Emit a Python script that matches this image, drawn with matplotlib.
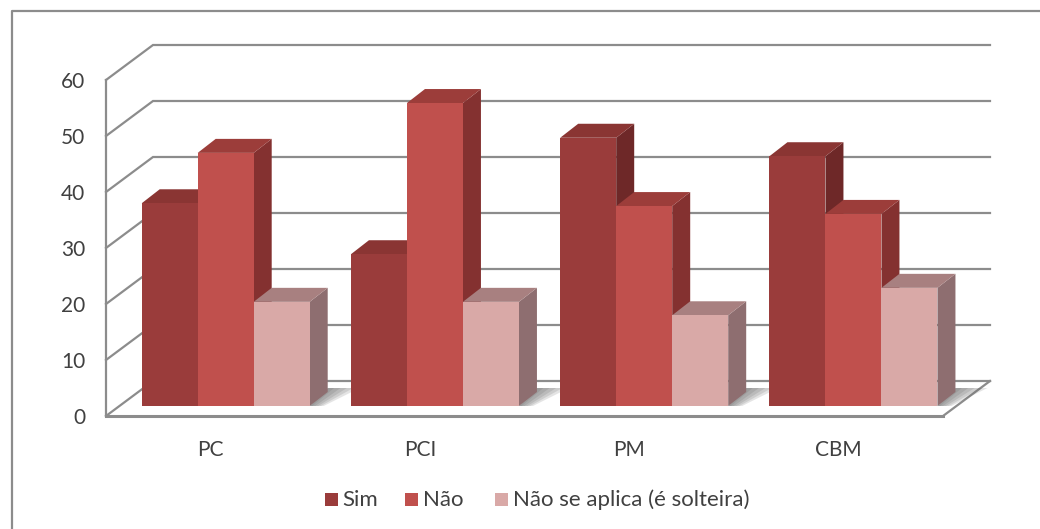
import matplotlib
matplotlib.use('Agg')
import matplotlib.pyplot as plt
from matplotlib.patches import Polygon, Rectangle
from matplotlib.lines import Line2D

categories = ['PC', 'PCI', 'PM', 'CBM']
sim = [36.2, 27.1, 47.9, 44.6]
nao = [45.2, 54.1, 35.7, 34.3]
nao_aplica = [18.6, 18.6, 16.2, 21.1]
yticks = [0, 10, 20, 30, 40, 50, 60]
series_names = ['Sim', 'Não', 'Não se aplica (é solteira)']

W, H = 1040, 529
plt.rcParams['font.family'] = ['Lato', 'DejaVu Sans']
fig = plt.figure(figsize=(W / 100, H / 100), dpi=100)
ax = fig.add_axes([106 / W, 1 - 416 / H, 837 / W, 336 / H])
ax.set_xlim(0, 4)
ax.set_ylim(0, 60)

# pixel to data scale, the fake 3d offsets are defined in pixels
px_x = 4 / 837
px_y = 60 / 336
wall_dx, wall_dy = 47 * px_x, 35 * px_y
base_dx, base_dy = 14 * px_x, 10 * px_y
depth_dx, depth_dy = 18 * px_x, 14 * px_y
bar_w = 56 * px_x
gap = 21.7 * px_x

grid = '#8c8c8c'
for v in yticks:
    ax.plot([0, wall_dx, 4 + wall_dx], [v, v + wall_dy, v + wall_dy],
            color=grid, lw=1.6, clip_on=False, zorder=1, solid_joinstyle='miter')
# floor edge
ax.plot([4, 4 + wall_dx], [0, wall_dy], color=grid, lw=1.6, clip_on=False, zorder=1)
ax.plot([0, 4], [0, 0], color=grid, lw=2.2, clip_on=False, zorder=1)

faces = [('#9a3c3b', '#8a3533', '#6e2828'),
         ('#c0504d', '#9c3d3a', '#843130'),
         ('#d9a9a7', '#a88080', '#8e6e70')]
series = [sim, nao, nao_aplica]

# floor shadow to the right of each bar group, darker near the bar
for i in range(len(categories)):
    x1 = i + gap + base_dx + 3 * bar_w
    for k in [1.0, 0.8, 0.6, 0.4, 0.2]:
        ax.add_patch(Polygon([(x1, base_dy), (x1 + depth_dx, base_dy + 18 * px_y),
                              (x1 + depth_dx + k * 32 * px_x, base_dy + 18 * px_y),
                              (x1 + k * 14 * px_x, base_dy)],
                             closed=True, fc='#505050', ec='none', alpha=0.15,
                             clip_on=False, zorder=2))

z = 3
for i in range(len(categories)):
    for j, vals in enumerate(series):
        v = vals[i]
        left = i + gap + base_dx + j * bar_w
        right = left + bar_w
        top = base_dy + v
        front, lid, side = faces[j]
        ax.add_patch(Polygon([(right, base_dy), (right + depth_dx, base_dy + depth_dy),
                              (right + depth_dx, top + depth_dy), (right, top)],
                             closed=True, fc=side, ec='none', clip_on=False, zorder=z))
        ax.add_patch(Polygon([(left, top), (left + depth_dx, top + depth_dy),
                              (right + depth_dx, top + depth_dy), (right, top)],
                             closed=True, fc=lid, ec='none', clip_on=False, zorder=z))
        ax.add_patch(Rectangle((left, base_dy), bar_w, v, fc=front, ec='none',
                               clip_on=False, zorder=z + 0.5))
        z += 1

for s in ['top', 'right', 'bottom']:
    ax.spines[s].set_visible(False)
ax.spines['left'].set_color(grid)
ax.spines['left'].set_linewidth(1.6)
ax.set_yticks(yticks)
ax.set_xticks([i + 0.5 for i in range(len(categories))])
ax.set_xticklabels(categories)
ax.tick_params(axis='y', length=0, pad=15, labelsize=15, labelcolor='#404040')
ax.tick_params(axis='x', length=0, pad=17, labelsize=15, labelcolor='#404040')
ax.patch.set_alpha(0)

# legend by hand to keep the spacing of the original
swatch_x = [325, 405, 495]
text_x = [342, 423, 513]
for name, c, sx, tx in zip(series_names, faces, swatch_x, text_x):
    fig.add_artist(Rectangle((sx / W, 1 - 506 / H), 13 / W, 13 / H, fc=c[0], ec='none',
                             transform=fig.transFigure))
    fig.text(tx / W, 1 - 500 / H, name, fontsize=16, color='#404040', va='center', ha='left')

# outer frame, only left and top are visible in the crop
frame = '#8c8c8c'
fig.add_artist(Line2D([12 / W, 12 / W, 1], [0, 1 - 11 / H, 1 - 11 / H], color=frame, lw=1.6))

fig.savefig('out.png', dpi=100)
